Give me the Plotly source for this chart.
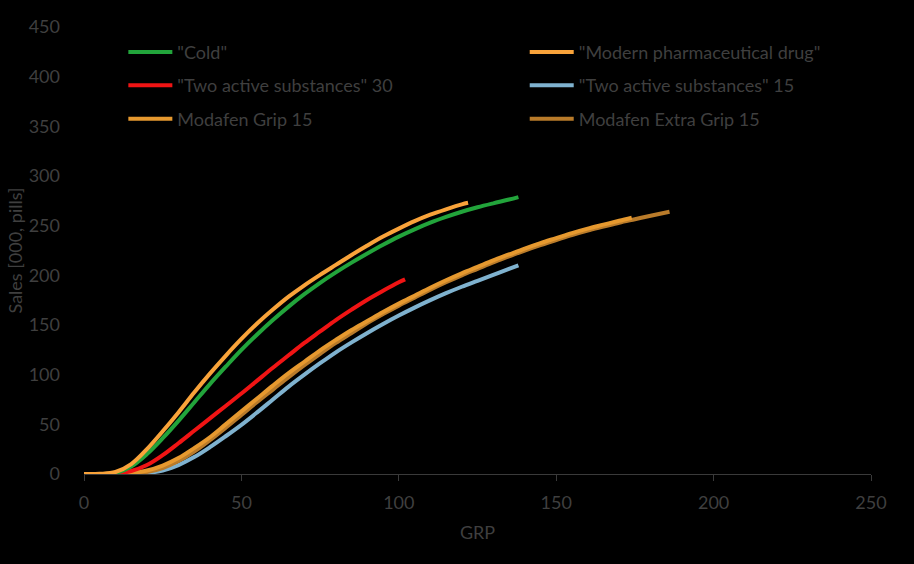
import plotly.graph_objects as go

# ---- data ----
cold_x = [0, 5, 10, 15, 20, 25, 30, 35, 40, 45, 50, 55, 60, 65, 70, 75, 80, 85, 90,
          95, 100, 105, 110, 115, 120, 125, 130, 135, 138]
cold_y = [0, 0, 1, 7.5, 20, 36, 53.5, 72, 90.5, 108, 125, 140.5, 155, 168.5, 181, 192.5, 203,
          212.8, 222, 230.8, 239, 246.3, 253, 258.8, 264, 268.5, 272.5, 276.3, 278.8]

modern_x = [0, 5, 10, 15, 20, 25, 30, 35, 40, 45, 50, 55, 60, 65, 70, 75, 80, 85, 90,
            95, 100, 105, 110, 115, 120, 122]
modern_y = [0, 0.2, 2, 10, 25, 43, 62, 82, 101, 119, 136, 151.5, 165.5, 178.5, 190, 200.5,
            210.5, 220.5, 230, 239, 247, 254.5, 261, 266.5, 271.5, 273]

two30_x = [0, 5, 10, 15, 20, 25, 30, 35, 40, 45, 50, 55, 60, 65, 70, 75, 80, 85, 90,
           95, 100, 102]
two30_y = [0, 0, 0.5, 3, 9, 19, 31, 43.5, 56, 68.5, 81, 94, 107, 119.5, 132, 143.5,
           155, 165.5, 175.5, 184.5, 193, 196]

two15_x = [0, 5, 10, 15, 20, 25, 30, 35, 40, 45, 50, 55, 60, 65, 70, 75, 80, 85, 90,
           95, 100, 105, 110, 115, 120, 125, 130, 135, 138]
two15_y = [0, 0, 0, 0, 1, 3.5, 9, 17, 27, 38, 49.5, 62, 75, 88, 100, 111.5, 122.5,
           132.5, 142, 151, 159.5, 167.5, 175, 182, 188.5, 194.5, 200.5, 206.5, 210]

grip_x = [0, 5, 10, 15, 20, 25, 30, 35, 40, 45, 50, 55, 60, 65, 70, 75, 80, 85, 90,
          95, 100, 105, 110, 115, 120, 125, 130, 135, 140, 145, 150, 155, 160, 165, 170, 174]
grip_y = [0, 0, 0, 1, 3.5, 8.5, 16, 26, 37, 50, 63, 76, 89, 101.5, 113, 124.5, 135,
          145, 154, 163, 171.5, 179.5, 187.5, 195, 202, 208.5, 215, 221, 227, 232.5,
          237.5, 242.5, 247, 251, 255, 258]

extra_x = [0, 5, 10, 15, 20, 25, 30, 35, 40, 45, 50, 55, 60, 65, 70, 75, 80, 85, 90,
           95, 100, 105, 110, 115, 120, 125, 130, 135, 140, 145, 150, 155, 160, 165,
           170, 175, 180, 186]
extra_y = [0, 0, 0, 0.5, 2, 6, 13, 22.5, 34, 46.5, 59.5, 72.5, 85, 97.5, 109.5, 121,
           132, 142, 152, 161, 169.5, 177.5, 185.5, 193, 200, 206.5, 213, 219, 225,
           230.5, 235.5, 240.5, 245, 249, 253, 256.5, 260, 264]

x_ticks = [0, 50, 100, 150, 200, 250]
y_ticks = [0, 50, 100, 150, 200, 250, 300, 350, 400, 450]

series = [
    ('"Cold"', cold_x, cold_y, "#22a43b", "legend", "g1"),
    ('"Two active substances" 30', two30_x, two30_y, "#f01414", "legend", "g2"),
    ("Modafen Grip 15", grip_x, grip_y, "#e6992f", "legend", "g3"),
    ('"Modern pharmaceutical drug"', modern_x, modern_y, "#f9a33a", "legend2", "g4"),
    ('"Two active substances" 15', two15_x, two15_y, "#7fb2cf", "legend2", "g5"),
    ("Modafen Extra Grip 15", extra_x, extra_y, "#b97b2a", "legend2", "g6"),
]

fig = go.Figure()
draw_order = [4, 5, 2, 1, 0, 3]
for i in draw_order:
    name, xs, ys, col, leg, grp = series[i]
    fig.add_trace(go.Scatter(
        x=xs, y=ys, mode="lines", name=name,
        line=dict(color=col, width=4, shape="spline", smoothing=1.0),
        legend=leg, legendgroup=grp, legendrank=i + 1,
        hoverinfo="skip",
    ))

FONT = "Lato, 'Open Sans', sans-serif"
TXT = "#3f3f3f"
AX = "#3a3a3a"

legend_common = dict(
    bgcolor="rgba(0,0,0,0)", borderwidth=0,
    font=dict(family=FONT, size=18, color=TXT),
    orientation="v", tracegroupgap=7, itemwidth=44,
    xanchor="left", yanchor="top",
    itemclick=False, itemdoubleclick=False,
)

fig.update_layout(
    width=914, height=564,
    paper_bgcolor="#000000", plot_bgcolor="#000000",
    margin=dict(l=84, r=43, t=27, b=90),
    font=dict(family=FONT, size=18, color=TXT),
    showlegend=True,
    legend=dict(x=0.05, y=0.985, **legend_common),
    legend2=dict(x=0.56, y=0.985, **legend_common),
    xaxis=dict(
        range=[0, 250], tickvals=x_ticks, ticktext=[str(v) for v in x_ticks],
        showgrid=False, zeroline=False,
        showline=True, linecolor=AX, linewidth=1,
        ticks="outside", ticklen=6, tickcolor=AX, tickwidth=1,
        tickfont=dict(family=FONT, size=18, color=TXT),
        ticklabelstandoff=6,
        title=dict(text="GRP", font=dict(family=FONT, size=18, color=TXT), standoff=14),
    ),
    yaxis=dict(
        range=[0, 450], tickvals=y_ticks, ticktext=[str(v) for v in y_ticks],
        showgrid=False, zeroline=False, showline=False,
        ticks="", tickfont=dict(family=FONT, size=18, color=TXT),
        ticklabelstandoff=23,
        title=dict(text="Sales [000, pills]", font=dict(family=FONT, size=18, color=TXT), standoff=1),
    ),
)

fig.write_html(
    "out.html",
    config={"displayModeBar": False},
    post_script="document.body.style.margin='0';document.body.style.background='#000';",
)
